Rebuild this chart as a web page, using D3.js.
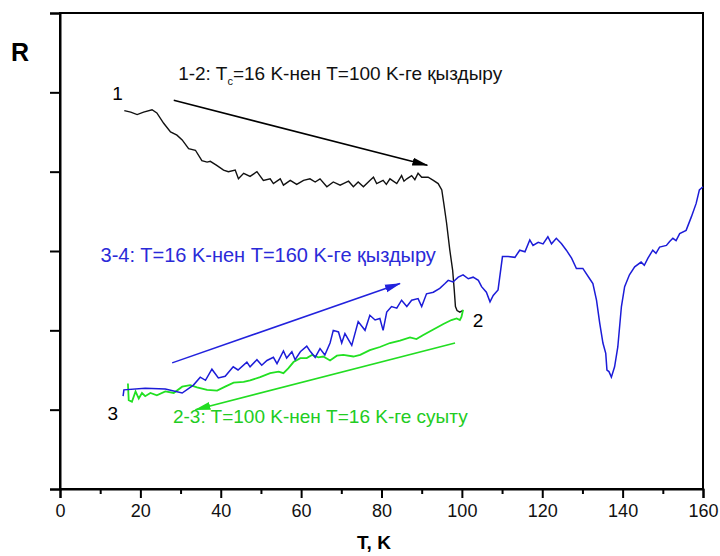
<!DOCTYPE html>
<html>
<head>
<meta charset="utf-8">
<script src="https://cdnjs.cloudflare.com/ajax/libs/d3/7.8.5/d3.min.js"></script>
<style>
  body { margin: 0; background: #fff; }
  text { font-family: "Liberation Sans", Arial, sans-serif; }
</style>
</head>
<body>
<div id="chart"></div>
<script>
// heating 1-2 (black), T in K, R in arbitrary tick units
let heat12 = [
    [16.0,4.77],[17.6,4.75],[19.2,4.72],[20.8,4.75],[22.9,4.78],[24.1,4.74],[25.8,4.61],[27.5,4.50],
    [29.1,4.46],[30.4,4.40],[32.0,4.29],[33.7,4.27],[35.3,4.14],[36.6,4.12],[37.4,4.13],[39.0,4.08],
    [40.7,4.02],[41.9,4.00],[43.6,4.02],[44.4,3.91],[45.7,3.98],[47.3,3.94],[49.0,4.00],[50.6,3.89],
    [52.3,3.91],[53.1,3.85],[54.8,3.91],[55.6,3.83],[57.3,3.89],[58.9,3.84],[60.6,3.89],[62.2,3.91],
    [63.5,3.87],[64.7,3.91],[66.4,3.81],[68.0,3.87],[69.7,3.83],[70.5,3.85],[71.8,3.88],[73.0,3.81],
    [74.2,3.87],[75.5,3.81],[77.1,3.89],[78.0,3.93],[78.8,3.85],[80.4,3.89],[81.2,3.84],[82.1,3.91],
    [83.8,3.85],[85.0,3.95],[85.6,3.88],[86.3,3.91],[87.5,3.95],[88.3,3.90],[89.1,3.98],[90.0,3.93],
    [91.6,3.93],[92.9,3.89],[94.1,3.85],[95.0,3.77],[95.5,3.60],[96.2,3.35],[97.0,3.01],[97.7,2.76],
    [98.1,2.51],[98.4,2.30],[98.8,2.25],[99.5,2.23],[100.2,2.25]
];

// cooling 2-3 (green)
let cool23 = [
    [16.9,1.33],[17.1,1.12],[17.9,1.10],[18.8,1.23],[19.6,1.14],[20.4,1.21],[21.2,1.17],[22.5,1.21],
    [24.1,1.18],[26.2,1.23],[28.3,1.21],[30.4,1.29],[32.4,1.31],[34.1,1.28],[36.6,1.25],[39.1,1.24],
    [41.1,1.29],[43.2,1.34],[45.7,1.35],[47.3,1.37],[49.8,1.41],[52.3,1.46],[54.4,1.48],[55.6,1.46],
    [56.8,1.52],[58.1,1.60],[59.8,1.65],[61.4,1.65],[62.7,1.69],[64.3,1.66],[65.5,1.67],[67.2,1.62],
    [68.9,1.68],[70.5,1.69],[73.0,1.67],[74.7,1.69],[77.1,1.75],[79.6,1.79],[82.1,1.84],[84.6,1.87],
    [87.1,1.91],[88.7,1.89],[90.4,1.94],[92.9,2.01],[95.4,2.08],[97.4,2.13],[98.7,2.15],[99.5,2.13],
    [99.9,2.17],[100.3,2.26]
];

// heating 3-4 (blue)
let heat34 = [
    [15.7,1.17],[15.9,1.25],[21.2,1.27],[26.2,1.26],[30.4,1.21],[33.2,1.31],[34.9,1.41],[36.2,1.37],
    [37.8,1.51],[39.4,1.40],[41.1,1.42],[43.1,1.54],[44.3,1.50],[46.5,1.60],[47.3,1.54],[49.0,1.63],
    [50.2,1.56],[51.5,1.62],[53.1,1.66],[54.0,1.58],[55.6,1.74],[56.4,1.65],[57.7,1.73],[58.5,1.63],
    [59.8,1.73],[61.4,1.80],[62.2,1.74],[63.5,1.66],[64.7,1.77],[65.9,1.69],[67.2,1.84],[68.0,2.00],
    [69.3,1.98],[70.1,1.84],[70.9,1.96],[72.6,1.81],[74.2,2.11],[75.9,2.00],[77.1,2.19],[78.4,2.13],
    [79.6,2.15],[80.4,2.00],[81.3,2.23],[82.5,2.30],[83.8,2.28],[85.0,2.38],[86.3,2.30],[87.5,2.38],
    [89.1,2.40],[90.0,2.30],[91.2,2.46],[92.9,2.48],[94.5,2.53],[95.8,2.59],[96.6,2.63],[97.8,2.61],
    [99.1,2.67],[100.3,2.70],[101.6,2.65],[102.8,2.67],[104.1,2.63],[104.9,2.55],[106.1,2.48],[107.0,2.36],
    [107.8,2.44],[109.0,2.51],[110.1,2.93],[111.5,2.93],[113.2,2.92],[114.4,3.01],[115.7,2.99],[116.9,3.14],
    [117.7,3.07],[119.0,3.11],[120.2,3.09],[121.4,3.18],[122.3,3.09],[123.5,3.16],[124.8,3.09],[126.0,3.01],
    [127.3,2.91],[128.5,2.78],[130.1,2.78],[131.8,2.65],[132.6,2.59],[133.5,2.38],[134.3,2.09],[135.1,1.84],
    [135.8,1.71],[136.1,1.50],[136.6,1.48],[137.2,1.41],[138.0,1.54],[138.8,1.79],[139.7,2.30],[140.5,2.55],
    [141.7,2.70],[143.0,2.80],[144.6,2.86],[145.4,2.82],[146.3,2.91],[147.5,3.01],[148.3,2.97],[149.2,3.05],
    [150.9,3.07],[151.7,3.12],[152.5,3.16],[153.3,3.13],[154.2,3.22],[155.8,3.26],[157.1,3.43],[158.3,3.60],
    [159.1,3.77],[160.0,3.81]
];

let xTicks = [0, 20, 40, 60, 80, 100, 120, 140, 160];
let xMinor = [10, 30, 50, 70, 90, 110, 130, 150];
let yTicks = [0, 1, 2, 3, 4, 5, 6];

// arrows: [T0, R0, T1, R1], head at the second point
let arrows = [
    {from: [28.3, 4.90], to: [91.4, 4.08], color: "#000000"},
    {from: [27.9, 1.59], to: [84.6, 2.59], color: "#2222dd"},
    {from: [98.3, 1.84], to: [33.7, 1.00], color: "#22dd22"}
];

let labels = [
    {t: 13.0, r: 4.90, text: "1", color: "#000", size: 19},
    {t: 102.7, r: 2.04, text: "2", color: "#000", size: 19},
    {t: 11.8, r: 0.87, text: "3", color: "#000", size: 19},
    {t: 10.1, r: 2.86, text: "3-4: T=16 K-нен T=160 K-ге қыздыру", color: "#2a2ad8", size: 20},
    {t: 28.1, r: 0.83, text: "2-3: T=100 K-нен T=16 K-ге суыту", color: "#22cc22", size: 19}
];

let width = 720, height = 556;
let margin = {top: 13, right: 17, bottom: 67, left: 60};

let svg = d3.select("#chart").append("svg")
    .attr("width", width)
    .attr("height", height);

let x = d3.scaleLinear().domain([0, 160]).range([margin.left, width - margin.right]);
let y = d3.scaleLinear().domain([0, 6]).range([height - margin.bottom, margin.top]);

svg.append("defs").selectAll("marker")
    .data(arrows)
    .enter().append("marker")
    .attr("id", (d, i) => "head" + i)
    .attr("markerUnits", "userSpaceOnUse")
    .attr("viewBox", "0 -5 16 10")
    .attr("refX", 15)
    .attr("refY", 0)
    .attr("markerWidth", 16)
    .attr("markerHeight", 10)
    .attr("orient", "auto")
    .append("path")
    .attr("d", "M0,-4L16,0L0,4Z")
    .attr("fill", d => d.color);

// frame
svg.append("rect")
    .attr("x", x(0)).attr("y", y(6))
    .attr("width", x(160) - x(0)).attr("height", y(0) - y(6))
    .attr("fill", "none").attr("stroke", "#000").attr("stroke-width", 2);

let xAxis = svg.append("g")
    .attr("transform", "translate(0," + y(0) + ")")
    .call(d3.axisBottom(x).tickValues(xTicks).tickSize(9).tickPadding(6));
svg.append("g")
    .attr("transform", "translate(0," + y(0) + ")")
    .call(d3.axisBottom(x).tickValues(xMinor).tickSize(5).tickFormat(""))
    .select(".domain").remove();
let yAxis = svg.append("g")
    .attr("transform", "translate(" + x(0) + ",0)")
    .call(d3.axisLeft(y).tickValues(yTicks).tickSize(10).tickFormat(""));

svg.selectAll(".domain").attr("stroke-width", 2);
svg.selectAll(".tick line").attr("stroke-width", 2);
xAxis.selectAll("text")
    .style("font-size", "18px")
    .style("font-family", "Liberation Sans, Arial, sans-serif")
    .attr("fill", "#111");

svg.append("text")
    .attr("x", 374).attr("y", 549)
    .attr("text-anchor", "middle")
    .style("font-size", "19px").style("font-weight", "bold")
    .text("T, K");

svg.append("text")
    .attr("x", 11).attr("y", 61)
    .style("font-size", "25px").style("font-weight", "bold")
    .text("R");

let line = d3.line()
    .x(d => x(d[0]))
    .y(d => y(d[1]));

svg.append("path").datum(heat12)
    .attr("d", line).attr("fill", "none")
    .attr("stroke", "#111").attr("stroke-width", 1.4);
svg.append("path").datum(cool23)
    .attr("d", line).attr("fill", "none")
    .attr("stroke", "#22e022").attr("stroke-width", 1.8);
svg.append("path").datum(heat34)
    .attr("d", line).attr("fill", "none")
    .attr("stroke", "#1c1cd8").attr("stroke-width", 1.5);

svg.selectAll(".arrow")
    .data(arrows)
    .enter().append("line")
    .attr("class", "arrow")
    .attr("x1", d => x(d.from[0])).attr("y1", d => y(d.from[1]))
    .attr("x2", d => x(d.to[0])).attr("y2", d => y(d.to[1]))
    .attr("stroke", d => d.color)
    .attr("stroke-width", 1.5)
    .attr("marker-end", (d, i) => "url(#head" + i + ")");

svg.selectAll(".lbl")
    .data(labels)
    .enter().append("text")
    .attr("class", "lbl")
    .attr("x", d => x(d.t)).attr("y", d => y(d.r))
    .attr("fill", d => d.color)
    .style("font-size", d => d.size + "px")
    .text(d => d.text);

// label with subscript
let t12 = svg.append("text")
    .attr("x", x(29.4)).attr("y", y(5.15))
    .style("font-size", "19px")
    .attr("fill", "#111");
t12.append("tspan").text("1-2: T");
t12.append("tspan").attr("dy", 5).style("font-size", "11px").text("c");
t12.append("tspan").attr("dy", -5).text("=16 K-нен T=100 K-ге қыздыру");
</script>
</body>
</html>
